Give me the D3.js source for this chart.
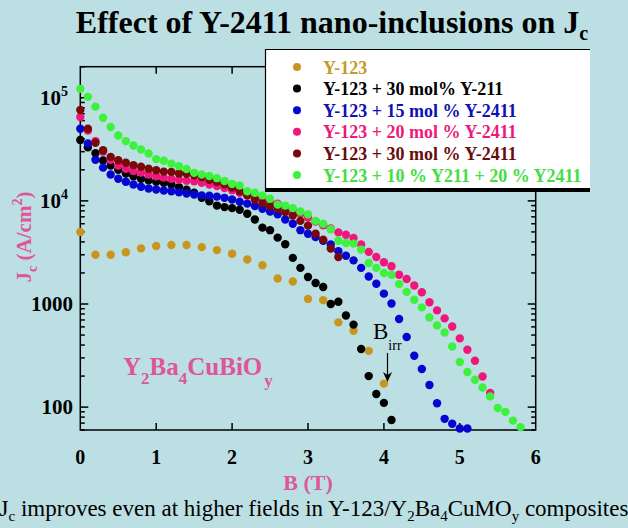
<!DOCTYPE html>
<html>
<head>
<meta charset="utf-8">
<script src="https://cdn.jsdelivr.net/npm/d3@7"></script>
<style>
  body { margin: 0; background: #bcdfe3; }
  svg { display: block; }
</style>
</head>
<body>
<script>
// Jc (A/cm^2) vs B (T), one [B, Jc] pair per point
var y123 = [[0,5000],[0.2,3000],[0.4,3000],[0.6,3180],[0.8,3460],[1.0,3650],[1.2,3730],[1.4,3730],
  [1.6,3560],[1.8,3330],[2.0,3070],[2.2,2700],[2.4,2380],[2.6,1770],[2.8,1650],[3.0,1120],[3.2,1090],
  [3.4,663],[3.6,550],[3.8,351],[4.0,169]];

var y211_30 = [[0,39000],[0.1,33000],[0.2,29000],[0.3,24600],[0.4,22000],[0.5,20000],[0.6,18400],
  [0.7,17300],[0.8,16400],[0.9,15800],[1.0,15300],[1.1,15000],[1.2,14400],[1.3,13600],[1.4,12800],
  [1.5,12000],[1.6,10700],[1.7,9900],[1.8,9000],[1.9,8700],[2.0,8500],[2.1,8200],[2.2,7500],
  [2.3,6600],[2.4,5500],[2.5,5200],[2.6,4400],[2.7,3800],[2.8,2800],[2.9,2240],[3.0,1830],
  [3.1,1600],[3.2,1460],[3.3,1000],[3.4,1050],[3.5,774],[3.6,631],[3.7,366],[3.8,200],[3.9,134],
  [4.0,110],[4.1,75]];

var y2411_15 = [[0,50000],[0.1,36000],[0.2,25000],[0.3,21000],[0.4,18000],[0.5,16400],[0.6,15300],
  [0.7,14400],[0.8,13700],[0.9,13200],[1.0,12900],[1.1,12600],[1.2,12400],[1.3,12100],[1.4,11800],
  [1.5,11500],[1.6,11300],[1.7,11200],[1.8,11000],[1.9,10700],[2.0,10300],[2.1,9800],[2.2,9400],
  [2.3,8900],[2.4,8400],[2.5,7900],[2.6,7400],[2.7,6600],[2.8,6000],[2.9,5200],[3.0,4800],
  [3.1,4450],[3.2,4100],[3.3,3770],[3.4,3250],[3.5,2940],[3.6,2650],[3.7,2240],[3.8,1850],
  [3.9,1570],[4.0,1260],[4.1,1010],[4.2,715],[4.3,478],[4.4,315],[4.5,234],[4.6,164],[4.7,109],
  [4.8,77],[4.9,69],[5.0,62],[5.1,62]];

var y2411_20 = [[0,65000],[0.1,48000],[0.2,38000],[0.3,30000],[0.4,25000],[0.5,22000],[0.6,20500],
  [0.7,19500],[0.8,18800],[0.9,18000],[1.0,17300],[1.1,16800],[1.2,16400],[1.3,16000],[1.4,15700],
  [1.5,15500],[1.6,15000],[1.7,14400],[1.8,13900],[1.9,13300],[2.0,12700],[2.1,12000],[2.2,11300],
  [2.3,10800],[2.4,10400],[2.5,9900],[2.6,9400],[2.7,8800],[2.8,8200],[2.9,7500],[3.0,6900],
  [3.1,6300],[3.2,5800],[3.3,5400],[3.4,4950],[3.5,4700],[3.6,4370],[3.7,3770],[3.8,3200],
  [3.9,2860],[4.0,2540],[4.1,2320],[4.2,1920],[4.3,1750],[4.4,1510],[4.5,1300],[4.6,1040],
  [4.7,867],[4.8,725],[4.9,606],[5.0,464],[5.1,360],[5.2,282],[5.3,198],[5.4,137]];

var y2411_30 = [[0,76000],[0.1,50000],[0.2,36600],[0.3,31000],[0.4,26700],[0.5,24800],[0.6,23400],
  [0.7,22200],[0.8,21400],[0.9,20500],[1.0,19800],[1.1,19200],[1.2,19100],[1.3,18400],[1.4,18300],
  [1.5,17700],[1.6,17000],[1.7,16000],[1.8,15300],[1.9,14500],[2.0,13500],[2.1,12400],[2.2,11300],
  [2.3,10300],[2.4,9500],[2.5,8900],[2.6,8400],[2.7,7800],[2.8,7200],[2.9,6400],[3.0,5750],
  [3.1,4800],[3.2,4200],[3.3,3450],[3.4,2850]];

var y211_10_2411_20 = [[0,122000],[0.1,102000],[0.2,82000],[0.3,64000],[0.4,52000],[0.5,43000],
  [0.6,38000],[0.7,34400],[0.8,31500],[0.9,28800],[1.0,25400],[1.1,24500],[1.2,22900],[1.3,21700],
  [1.4,20400],[1.5,18700],[1.6,18000],[1.7,17400],[1.8,16600],[1.9,15600],[2.0,14600],[2.1,14100],
  [2.2,12400],[2.3,12000],[2.4,11300],[2.5,10500],[2.6,9200],[2.7,9000],[2.8,8500],[2.9,7900],
  [3.0,7400],[3.1,6400],[3.2,6000],[3.3,5300],[3.4,4100],[3.5,3900],[3.6,3850],[3.7,3370],
  [3.8,2500],[3.9,2240],[4.0,2000],[4.1,1920],[4.2,1560],[4.3,1310],[4.4,1100],[4.5,927],
  [4.6,741],[4.7,620],[4.8,530],[4.9,387],[5.0,274],[5.1,219],[5.2,184],[5.3,155],[5.4,127],
  [5.5,98],[5.6,90],[5.7,74],[5.8,64]];

var seriesNames = ["Y-123", "Y-123 + 30 mol% Y-211", "Y-123 + 15 mol % Y-2411",
  "Y-123 + 20 mol % Y-2411", "Y-123 + 30 mol % Y-2411", "Y-123 + 10 % Y211 + 20 % Y2411"];
var seriesData = [y123, y211_30, y2411_15, y2411_20, y2411_30, y211_10_2411_20];
var dotColors = ["#c8961e", "#000000", "#0505d2", "#f0167c", "#7a0808", "#3cf23c"];
var textColors = ["#c49a2a", "#000000", "#1010b4", "#ec1a78", "#6a0c0c", "#44dd44"];

var xTicks = [0, 1, 2, 3, 4, 5, 6];
var yMajor = [100, 1000, 10000, 100000];
var yLabels = ["100", "1000", "10|4", "10|5"];

var W = 628, H = 528;
var svg = d3.select("body").append("svg").attr("width", W).attr("height", H)
  .attr("font-family", "'Liberation Serif', 'Times New Roman', Times, 'DejaVu Serif', serif");
svg.append("rect").attr("width", W).attr("height", H).attr("fill", "#bcdfe3");

var x = d3.scaleLinear().domain([0, 6]).range([80.3, 535.7]);
var y = d3.scaleLog().domain([60, 2e5]).range([430, 66.7]);

// title
var title = svg.append("text").attr("x", 332).attr("y", 33).attr("text-anchor", "middle")
  .attr("font-size", 32).attr("font-weight", "bold").attr("fill", "#000");
title.append("tspan").text("Effect of Y-2411 nano-inclusions on J");
title.append("tspan").attr("font-size", 20).attr("dy", 7).text("c");

// frame
var pink = "#de559c";
var frame = svg.append("g").attr("stroke", "#000").attr("stroke-width", 1.5).attr("fill", "none");
frame.append("rect").attr("x", x(0)).attr("y", y(2e5)).attr("width", x(6) - x(0)).attr("height", y(60) - y(2e5));

// x ticks, inside, top and bottom
xTicks.slice(1, -1).forEach(function(t) {
  frame.append("line").attr("x1", x(t)).attr("x2", x(t)).attr("y1", y(60)).attr("y2", y(60) - 7);
  frame.append("line").attr("x1", x(t)).attr("x2", x(t)).attr("y1", y(2e5)).attr("y2", y(2e5) + 7);
});
// y ticks, major and minor, both sides
y.ticks().forEach(function(t) {
  var major = yMajor.indexOf(t) >= 0;
  var len = major ? 8 : 4.5;
  frame.append("line").attr("x1", x(0)).attr("x2", x(0) + len).attr("y1", y(t)).attr("y2", y(t));
  frame.append("line").attr("x1", x(6)).attr("x2", x(6) - len).attr("y1", y(t)).attr("y2", y(t));
});

svg.append("g").selectAll("text").data(xTicks).enter().append("text")
  .attr("x", function(d) { return x(d); }).attr("y", 464)
  .attr("text-anchor", "middle").attr("font-size", 20).attr("font-weight", "bold")
  .text(function(d) { return d; });

yMajor.forEach(function(v, i) {
  var parts = yLabels[i].split("|");
  var t = svg.append("text").attr("x", parts.length > 1 ? 68 : 73).attr("y", y(v) + 7)
    .attr("text-anchor", "end").attr("font-size", 21).attr("font-weight", "bold");
  t.append("tspan").text(parts[0]);
  if (parts.length > 1) t.append("tspan").attr("font-size", 14).attr("dy", -9).text(parts[1]);
});

// axis titles
svg.append("text").attr("x", 308).attr("y", 490).attr("text-anchor", "middle")
  .attr("font-size", 22).attr("font-weight", "bold").attr("fill", pink).text("B (T)");
var yl = svg.append("text").attr("transform", "translate(31,237) rotate(-90)")
  .attr("text-anchor", "middle").attr("font-size", 21).attr("font-weight", "bold").attr("fill", pink);
yl.append("tspan").text("J");
yl.append("tspan").attr("font-size", 14).attr("dy", 6).text("c");
yl.append("tspan").attr("dy", -6).text(" (A/cm");
yl.append("tspan").attr("font-size", 14).attr("dy", -9).text("2");
yl.append("tspan").attr("dy", 9).text(")");

// points
seriesData.forEach(function(data, i) {
  svg.append("g").selectAll("circle").data(data).enter().append("circle")
    .attr("cx", function(d) { return x(d[0]); })
    .attr("cy", function(d) { return y(d[1]); })
    .attr("r", 4.2).attr("fill", dotColors[i]);
});

// annotations
var comp = svg.append("text").attr("x", 123).attr("y", 375).attr("font-size", 25)
  .attr("font-weight", "bold").attr("fill", pink);
comp.append("tspan").text("Y");
comp.append("tspan").attr("font-size", 17).attr("dy", 9).text("2");
comp.append("tspan").attr("dy", -9).text("Ba");
comp.append("tspan").attr("font-size", 17).attr("dy", 9).text("4");
comp.append("tspan").attr("dy", -9).text("CuBiO");
comp.append("tspan").attr("font-size", 17).attr("dy", 11).attr("dx", 2).text("y");

var birr = svg.append("text").attr("x", 373).attr("y", 339).attr("font-size", 23).attr("fill", "#000");
birr.append("tspan").text("B");
birr.append("tspan").attr("font-size", 14).attr("dy", 11).attr("dx", 0).text("irr");
svg.append("line").attr("x1", 387.5).attr("x2", 387.5).attr("y1", 353).attr("y2", 376)
  .attr("stroke", "#000").attr("stroke-width", 1.2);
svg.append("path").attr("d", "M383,372 L387.5,382 L392,372 L387.5,375 Z").attr("fill", "#000");

// legend
var lg = svg.append("g");
lg.append("rect").attr("x", 265).attr("y", 49).attr("width", 325).attr("height", 142).attr("fill", "#fff");
lg.append("line").attr("x1", 265).attr("x2", 590).attr("y1", 49.5).attr("y2", 49.5).attr("stroke", "#000").attr("stroke-width", 1.2);
lg.append("line").attr("x1", 265.5).attr("x2", 265.5).attr("y1", 49).attr("y2", 191).attr("stroke", "#000").attr("stroke-width", 1.2);
lg.append("line").attr("x1", 265).attr("x2", 590).attr("y1", 190).attr("y2", 190).attr("stroke", "#000").attr("stroke-width", 4);
seriesNames.forEach(function(name, i) {
  var ry = 67 + i * 21.6;
  lg.append("circle").attr("cx", 297).attr("cy", ry).attr("r", 4).attr("fill", dotColors[i]);
  lg.append("text").attr("x", 323).attr("y", ry + 6.5).attr("font-size", 18)
    .attr("font-weight", "bold").attr("fill", textColors[i]).text(name);
});

// caption
var cap = svg.append("text").attr("x", 314).attr("y", 516).attr("text-anchor", "middle")
  .attr("font-size", 23).attr("fill", "#000");
cap.append("tspan").text("J");
cap.append("tspan").attr("font-size", 15).attr("dy", 5).text("c");
cap.append("tspan").attr("dy", -5).text(" improves even at higher fields in Y-123/Y");
cap.append("tspan").attr("font-size", 15).attr("dy", 5).text("2");
cap.append("tspan").attr("dy", -5).text("Ba");
cap.append("tspan").attr("font-size", 15).attr("dy", 5).text("4");
cap.append("tspan").attr("dy", -5).text("CuMO");
cap.append("tspan").attr("font-size", 15).attr("dy", 5).text("y");
cap.append("tspan").attr("dy", -5).text(" composites");
</script>
</body>
</html>
